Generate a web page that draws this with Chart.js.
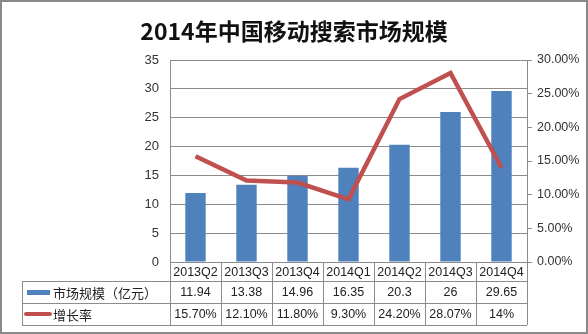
<!DOCTYPE html>
<html lang="zh">
<head>
    <meta charset="UTF-8">
    <title>2014年中国移动搜索市场规模</title>
    <script src="https://cdn.jsdelivr.net/npm/chart.js"></script>
    <style>
        body { margin: 0; background: #fff; }
        .chart-box { width: 588px; height: 334px; position: relative; }
    </style>
</head>
<body>
    <div class="chart-box">
        <canvas id="mainChart"></canvas>
    </div>

    <script>
        const quarters = ['2013Q2', '2013Q3', '2013Q4', '2014Q1', '2014Q2', '2014Q3', '2014Q4'];
        const marketSize = [11.94, 13.38, 14.96, 16.35, 20.3, 26, 29.65];
        const growthRate = [15.7, 12.1, 11.8, 9.3, 24.2, 28.07, 14];
        const sizeLabels = ['11.94', '13.38', '14.96', '16.35', '20.3', '26', '29.65'];
        const rateLabels = ['15.70%', '12.10%', '11.80%', '9.30%', '24.20%', '28.07%', '14%'];

        const BLUE = '#4F81BD';
        const RED = '#C0504D';
        const GRID = '#8c8c8c';
        const FONT = '"Liberation Sans", "Noto Sans CJK SC", sans-serif';

        // draws the data table under the plot, plus the outer frame
        const dataTable = {
            id: 'dataTable',
            afterDraw(chart) {
                const ctx = chart.ctx;
                const area = chart.chartArea;
                const xs = chart.scales.x;
                const colW = (area.right - area.left) / quarters.length;
                const top = area.bottom;
                const r1 = top + 19, r2 = r1 + 22, bot = r2 + 22;
                const legLeft = 22;

                ctx.save();
                ctx.strokeStyle = GRID;
                ctx.lineWidth = 1;
                ctx.beginPath();
                // horizontal lines
                [r1, r2, bot].forEach(y => {
                    ctx.moveTo(legLeft, y + 0.5);
                    ctx.lineTo(area.right, y + 0.5);
                });
                // legend column left edge
                ctx.moveTo(legLeft + 0.5, r1);
                ctx.lineTo(legLeft + 0.5, bot);
                // column boundaries
                for (let i = 0; i <= quarters.length; i++) {
                    const x = Math.round(area.left + i * colW) + 0.5;
                    ctx.moveTo(x, top);
                    ctx.lineTo(x, bot);
                }
                ctx.stroke();

                ctx.fillStyle = '#222';
                ctx.font = '12.5px ' + FONT;
                ctx.textAlign = 'center';
                ctx.textBaseline = 'middle';
                quarters.forEach((q, i) => {
                    const cx = xs.getPixelForValue(i);
                    ctx.fillText(q, cx, (top + r1) / 2 + 1);
                    ctx.fillText(sizeLabels[i], cx, (r1 + r2) / 2 + 1);
                    ctx.fillText(rateLabels[i], cx, (r2 + bot) / 2 + 1);
                });

                // legend keys
                ctx.fillStyle = BLUE;
                ctx.fillRect(27, (r1 + r2) / 2 - 2, 23, 5);
                ctx.strokeStyle = RED;
                ctx.lineWidth = 4;
                ctx.lineCap = 'round';
                ctx.beginPath();
                ctx.moveTo(26, (r2 + bot) / 2);
                ctx.lineTo(50, (r2 + bot) / 2);
                ctx.stroke();

                ctx.fillStyle = '#222';
                ctx.textAlign = 'left';
                ctx.font = '13px "Noto Sans CJK SC", sans-serif';
                ctx.fillText('市场规模（亿元）', 53, (r1 + r2) / 2 + 1);
                ctx.fillText('增长率', 53, (r2 + bot) / 2 + 1);

                // outer frame
                ctx.strokeStyle = '#8a8a8a';
                ctx.lineWidth = 2;
                ctx.lineCap = 'butt';
                ctx.strokeRect(1, 1, chart.width - 2, chart.height - 2);
                ctx.restore();
            }
        };

        new Chart(document.getElementById('mainChart'), {
            data: {
                labels: quarters,
                datasets: [
                    {
                        type: 'line',
                        label: '增长率',
                        data: growthRate,
                        yAxisID: 'y1',
                        borderColor: RED,
                        borderWidth: 4.5,
                        pointRadius: 0,
                        tension: 0,
                        order: 0
                    },
                    {
                        type: 'bar',
                        label: '市场规模（亿元）',
                        data: marketSize,
                        yAxisID: 'y',
                        backgroundColor: BLUE,
                        categoryPercentage: 1,
                        barPercentage: 0.4,
                        order: 1
                    }
                ]
            },
            options: {
                responsive: true,
                maintainAspectRatio: false,
                animation: false,
                layout: { padding: { bottom: 72 } },
                plugins: {
                    legend: { display: false },
                    tooltip: { enabled: false },
                    title: {
                        display: true,
                        text: '2014年中国移动搜索市场规模',
                        color: '#111',
                        font: { family: '"Noto Sans CJK SC", sans-serif', size: 23, weight: 'bold' },
                        padding: { top: 17, bottom: 15.4 }
                    }
                },
                scales: {
                    x: {
                        ticks: { display: false },
                        grid: { display: false },
                        border: { color: GRID },
                        afterFit(s) { s.height = 0; }
                    },
                    y: {
                        position: 'left',
                        min: 0,
                        max: 35,
                        ticks: {
                            stepSize: 5,
                            padding: 11,
                            color: '#333',
                            font: { family: FONT, size: 13 }
                        },
                        grid: { color: GRID, drawTicks: false },
                        border: { color: GRID },
                        afterFit(s) { s.width = 170; }
                    },
                    y1: {
                        position: 'right',
                        min: 0,
                        max: 30,
                        ticks: {
                            stepSize: 5,
                            padding: 5,
                            color: '#333',
                            font: { family: FONT, size: 12.5 },
                            callback: v => v.toFixed(2) + '%'
                        },
                        grid: { drawOnChartArea: false, color: GRID, tickLength: 5 },
                        border: { color: GRID },
                        afterFit(s) { s.width = 61; }
                    }
                }
            },
            plugins: [dataTable]
        });
    </script>
</body>
</html>
